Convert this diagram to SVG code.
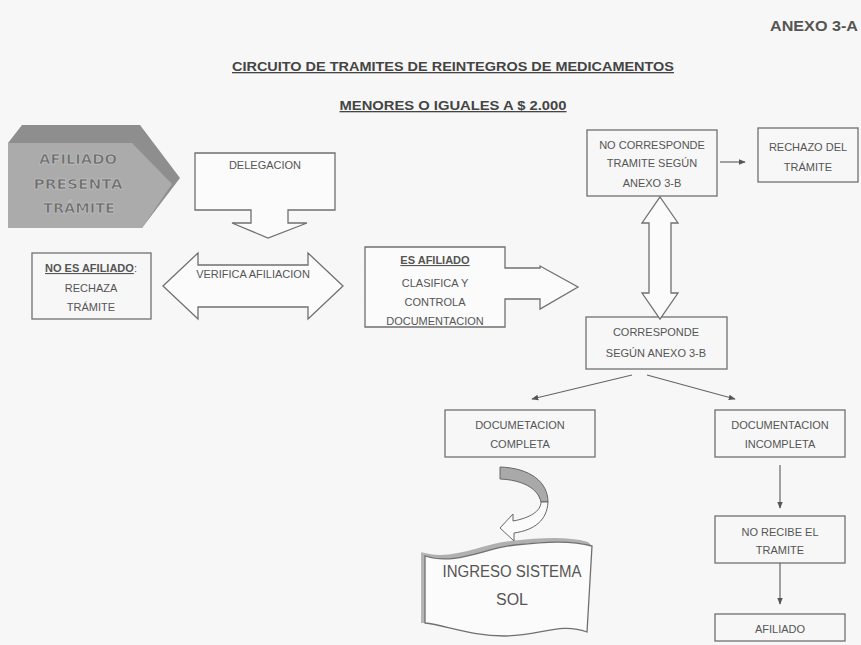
<svg xmlns="http://www.w3.org/2000/svg" width="861" height="645" viewBox="0 0 861 645">
<defs>
<marker id="ah" viewBox="0 0 10 10" refX="9" refY="5" markerWidth="7" markerHeight="7" markerUnits="userSpaceOnUse" orient="auto"><path d="M0,1 L10,5 L0,9 Z" fill="#555"/></marker>
</defs>
<style>
.box{fill:none;stroke:#707070;stroke-width:1.3}
.shape{fill:#fbfbfb;stroke:#707070;stroke-width:1.3}
.t{font-family:"Liberation Sans",Arial,sans-serif;font-size:11px;fill:#555;text-anchor:middle}
.b{font-weight:bold}
.u{text-decoration:underline}
.title{font-family:"Liberation Sans",Arial,sans-serif;font-size:13px;font-weight:bold;fill:#444;text-anchor:middle;text-decoration:underline}
.con{fill:none;stroke:#666;stroke-width:1.2}
.big{font-family:"DejaVu Sans","Liberation Sans",sans-serif;font-size:14px;font-weight:bold;fill:#6e6e6e;stroke:#d0d0d0;stroke-width:0.5;text-anchor:middle}
</style>
<rect width="861" height="645" fill="#f7f7f7"/>
<text x="814" y="31" font-family="'Liberation Sans',Arial,sans-serif" font-size="14" font-weight="bold" fill="#555" text-anchor="middle" textLength="88" lengthAdjust="spacingAndGlyphs">ANEXO 3-A</text>
<text class="title" x="453" y="71" textLength="442" lengthAdjust="spacingAndGlyphs">CIRCUITO DE TRAMITES DE REINTEGROS DE MEDICAMENTOS</text>
<text class="title" x="453" y="110" textLength="227" lengthAdjust="spacingAndGlyphs">MENORES O IGUALES A $ 2.000</text>

<g id="afiliado-presenta">
<polygon points="8,143 22,125 140,125 180,178 142,228 8,228" fill="#8e8e8e"/>
<polygon points="8,143 132,143 172,184 142,228 8,228" fill="#ababab"/>
<text class="big" x="78" y="164" textLength="78" lengthAdjust="spacingAndGlyphs">AFILIADO</text>
<text class="big" x="78" y="189" textLength="89" lengthAdjust="spacingAndGlyphs">PRESENTA</text>
<text class="big" x="79" y="213" textLength="72" lengthAdjust="spacingAndGlyphs">TRÁMITE</text>
</g>

<g id="delegacion">
<path class="shape" d="M195,153 H335 V210 H288 V223 H307 L268,238 L232,223 H251 V210 H195 Z"/>
<text class="t" x="265" y="169">DELEGACION</text>
</g>

<g id="no-es-afiliado">
<rect class="box" x="32" y="253" width="119" height="66"/>
<text class="t" x="91" y="272"><tspan class="b u">NO ES AFILIADO</tspan>:</text>
<text class="t" x="91" y="292">RECHAZA</text>
<text class="t" x="91" y="311">TRÁMITE</text>
</g>

<g id="verifica-afiliacion">
<path class="shape" d="M163,286 L198,253 V265 H308 V253 L343,286 L308,319 V307 H198 V319 Z"/>
<text class="t" x="253" y="278">VERIFICA AFILIACION</text>
</g>

<g id="es-afiliado">
<path class="shape" d="M365,247 H505 V268 H540 V266 L578,287 L540,309 V299 H505 V327 H365 Z"/>
<text class="t" x="435" y="264"><tspan class="b u">ES AFILIADO</tspan></text>
<text class="t" x="435" y="287">CLASIFICA Y</text>
<text class="t" x="435" y="306">CONTROLA</text>
<text class="t" x="435" y="325">DOCUMENTACION</text>
</g>

<g id="no-corresponde">
<rect class="box" x="587" y="130" width="130" height="66"/>
<text class="t" x="652" y="149">NO CORRESPONDE</text>
<text class="t" x="652" y="167">TRAMITE SEGÚN</text>
<text class="t" x="652" y="187">ANEXO 3-B</text>
</g>

<g id="rechazo">
<rect class="box" x="758" y="128" width="100" height="54"/>
<text class="t" x="808" y="151">RECHAZO DEL</text>
<text class="t" x="808" y="171">TRÁMITE</text>
</g>

<g id="corresponde">
<rect class="box" x="586" y="317" width="141" height="52"/>
<text class="t" x="656" y="336">CORRESPONDE</text>
<text class="t" x="656" y="357">SEGÚN ANEXO 3-B</text>
</g>

<g id="doc-completa">
<rect class="box" x="445" y="410" width="150" height="47"/>
<text class="t" x="520" y="429">DOCUMETACION</text>
<text class="t" x="520" y="448">COMPLETA</text>
</g>

<g id="doc-incompleta">
<rect class="box" x="715" y="410" width="130" height="47"/>
<text class="t" x="780" y="429">DOCUMENTACION</text>
<text class="t" x="780" y="448">INCOMPLETA</text>
</g>

<g id="no-recibe">
<rect class="box" x="715" y="516" width="130" height="47"/>
<text class="t" x="780" y="536">NO RECIBE EL</text>
<text class="t" x="780" y="554">TRAMITE</text>
</g>

<g id="afiliado-final">
<rect class="box" x="715" y="614" width="130" height="27"/>
<text class="t" x="780" y="633">AFILIADO</text>
</g>

<g id="ingreso-sol">
<path d="M421,552 C451,562 481,544 511,541 C541,538 566,536 588,542 L592,546 C570,540 545,542 515,545 C485,548 455,566 425,556 Z" fill="#b0b0b0"/>
<rect x="421" y="553" width="4" height="70" fill="#b5b5b5"/>
<path class="shape" d="M425,556 C455,566 485,548 515,545 C545,542 570,540 592,546 L587,632 C560,622 540,636 505,636 C470,636 445,625 425,623 Z"/>
<text x="512" y="577" font-family="'Liberation Sans',Arial,sans-serif" font-size="16" fill="#555" text-anchor="middle" textLength="139" lengthAdjust="spacingAndGlyphs">INGRESO SISTEMA</text>
<text x="512" y="605" font-family="'Liberation Sans',Arial,sans-serif" font-size="16" fill="#555" text-anchor="middle">SOL</text>
</g>

<g id="connectors">
<line class="con" x1="720" y1="162" x2="745" y2="162" marker-end="url(#ah)"/>
<path class="shape" d="M660,197 L678,223 H671 V293 H678 L660,319 L642,293 H649 V223 H642 Z"/>
<line class="con" x1="632" y1="375" x2="532" y2="399" marker-end="url(#ah)"/>
<line class="con" x1="647" y1="375" x2="735" y2="399" marker-end="url(#ah)"/>
<line class="con" x1="780" y1="465" x2="780" y2="508" marker-end="url(#ah)"/>
<line class="con" x1="780" y1="563" x2="780" y2="604" marker-end="url(#ah)"/>
<path d="M500,467 C530,468 548,482 548,502 L541,502 C538,488 522,480 500,479 Z" fill="#a9a9a9" stroke="#666" stroke-width="1"/>
<path d="M548,502 C547,520 535,530 514,533 L514,541 L500,528 L513,514 L513,521 C530,518 541,511 541,502 Z" fill="#fbfbfb" stroke="#666" stroke-width="1"/>
</g>
</svg>
